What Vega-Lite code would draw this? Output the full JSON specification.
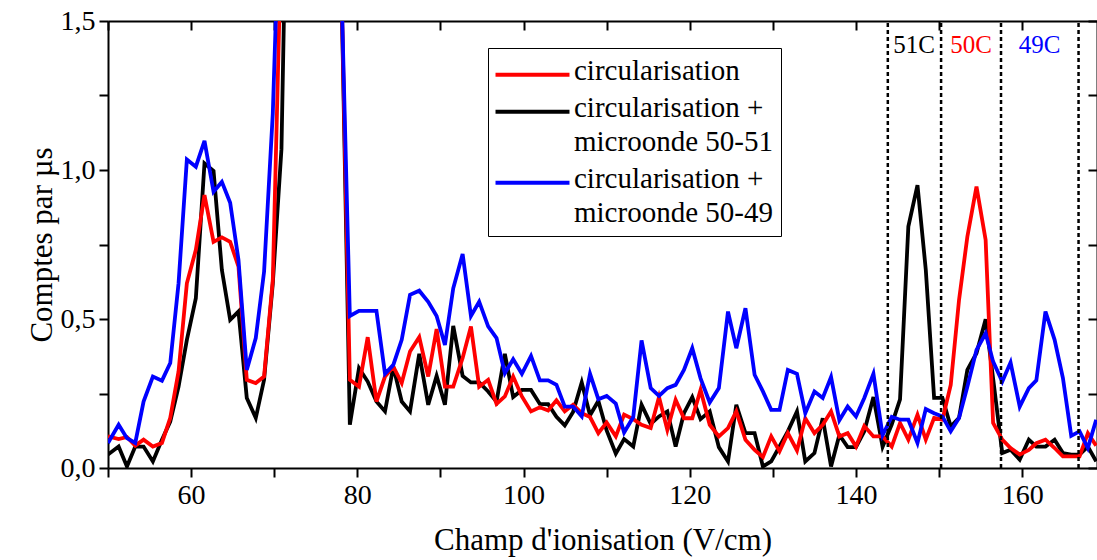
{
  "$schema": "https://vega.github.io/schema/vega-lite/v6.json",
  "width": 989,
  "height": 447,
  "autosize": {"type": "none"},
  "padding": {"left": 108, "top": 21, "right": 0, "bottom": 92},
  "background": "white",
  "config": {
    "view": {"stroke": null},
    "font": "'Liberation Serif', 'Times New Roman', 'DejaVu Serif', serif",
    "style": {"guide-label": {"lineHeight": 34}},
    "axis": {"domainColor": "black", "domainWidth": 2, "tickColor": "black", "tickWidth": 2, "labelColor": "black", "titleColor": "black", "labelFont": "'Liberation Serif', 'Times New Roman', 'DejaVu Serif', serif", "titleFont": "'Liberation Serif', 'Times New Roman', 'DejaVu Serif', serif", "grid": false, "titleFontWeight": "normal", "labelFlush": false, "labelOverlap": false}
  },
  "datasets": {
    "curves": [
      {"x": 50.0, "r": 0.106, "k": 0.045, "b": 0.084},
      {"x": 51.28, "r": 0.097, "k": 0.072, "b": 0.145},
      {"x": 52.28, "r": 0.104, "k": 0.005, "b": 0.100},
      {"x": 53.28, "r": 0.075, "k": 0.072, "b": 0.084},
      {"x": 54.28, "r": 0.095, "k": 0.072, "b": 0.223},
      {"x": 55.4, "r": 0.072, "k": 0.022, "b": 0.307},
      {"x": 56.49, "r": 0.084, "k": 0.095, "b": 0.293},
      {"x": 57.49, "r": 0.168, "k": 0.156, "b": 0.352},
      {"x": 58.49, "r": 0.324, "k": 0.273, "b": 0.620},
      {"x": 59.49, "r": 0.620, "k": 0.430, "b": 1.035},
      {"x": 60.57, "r": 0.732, "k": 0.570, "b": 1.011},
      {"x": 61.61, "r": 0.916, "k": 1.022, "b": 1.098},
      {"x": 62.7, "r": 0.759, "k": 0.997, "b": 0.927},
      {"x": 63.7, "r": 0.774, "k": 0.665, "b": 0.960},
      {"x": 64.7, "r": 0.759, "k": 0.497, "b": 0.890},
      {"x": 65.7, "r": 0.676, "k": 0.525, "b": 0.698},
      {"x": 66.7, "r": 0.296, "k": 0.235, "b": 0.329},
      {"x": 67.78, "r": 0.285, "k": 0.168, "b": 0.436},
      {"x": 68.78, "r": 0.307, "k": 0.296, "b": 0.659},
      {"x": 69.83, "r": 0.631, "k": 0.62, "b": 1.190},
      {"x": 70.87, "r": 1.8, "k": 1.07, "b": 2.1},
      {"x": 71.9, "r": 3.5, "k": 2.6, "b": 4.0},
      {"x": 72.95, "r": 5.0, "k": 5.0, "b": 5.5},
      {"x": 74.0, "r": 6.0, "k": 6.0, "b": 6.0},
      {"x": 75.0, "r": 6.0, "k": 6.0, "b": 6.0},
      {"x": 76.05, "r": 5.0, "k": 5.0, "b": 5.0},
      {"x": 77.05, "r": 3.5, "k": 3.5, "b": 3.5},
      {"x": 78.1, "r": 1.6, "k": 1.6, "b": 1.6},
      {"x": 79.1, "r": 0.296, "k": 0.145, "b": 0.510},
      {"x": 80.2, "r": 0.273, "k": 0.335, "b": 0.527},
      {"x": 81.25, "r": 0.439, "k": 0.290, "b": 0.527},
      {"x": 82.3, "r": 0.223, "k": 0.223, "b": 0.527},
      {"x": 83.33, "r": 0.307, "k": 0.190, "b": 0.316},
      {"x": 84.33, "r": 0.340, "k": 0.340, "b": 0.346},
      {"x": 85.34, "r": 0.285, "k": 0.223, "b": 0.430},
      {"x": 86.34, "r": 0.391, "k": 0.190, "b": 0.581},
      {"x": 87.45, "r": 0.439, "k": 0.383, "b": 0.595},
      {"x": 88.53, "r": 0.307, "k": 0.212, "b": 0.558},
      {"x": 89.54, "r": 0.466, "k": 0.309, "b": 0.510},
      {"x": 90.54, "r": 0.273, "k": 0.212, "b": 0.413},
      {"x": 91.54, "r": 0.273, "k": 0.477, "b": 0.603},
      {"x": 92.67, "r": 0.369, "k": 0.309, "b": 0.718},
      {"x": 93.67, "r": 0.475, "k": 0.287, "b": 0.510},
      {"x": 94.66, "r": 0.273, "k": 0.287, "b": 0.558},
      {"x": 95.74, "r": 0.296, "k": 0.257, "b": 0.475},
      {"x": 96.75, "r": 0.215, "k": 0.223, "b": 0.436},
      {"x": 97.75, "r": 0.240, "k": 0.383, "b": 0.318},
      {"x": 98.75, "r": 0.307, "k": 0.238, "b": 0.365},
      {"x": 99.8, "r": 0.240, "k": 0.262, "b": 0.316},
      {"x": 100.9, "r": 0.190, "k": 0.262, "b": 0.376},
      {"x": 101.96, "r": 0.204, "k": 0.215, "b": 0.294},
      {"x": 102.96, "r": 0.193, "k": 0.214, "b": 0.294},
      {"x": 103.96, "r": 0.227, "k": 0.172, "b": 0.279},
      {"x": 104.96, "r": 0.190, "k": 0.143, "b": 0.206},
      {"x": 105.96, "r": 0.212, "k": 0.188, "b": 0.206},
      {"x": 107.0, "r": 0.184, "k": 0.287, "b": 0.173},
      {"x": 108.0, "r": 0.171, "k": 0.177, "b": 0.316},
      {"x": 109.0, "r": 0.117, "k": 0.225, "b": 0.231},
      {"x": 110.0, "r": 0.153, "k": 0.126, "b": 0.242},
      {"x": 111.1, "r": 0.106, "k": 0.048, "b": 0.216},
      {"x": 112.1, "r": 0.179, "k": 0.097, "b": 0.119},
      {"x": 113.2, "r": 0.164, "k": 0.072, "b": 0.171},
      {"x": 114.2, "r": 0.145, "k": 0.212, "b": 0.428},
      {"x": 115.3, "r": 0.134, "k": 0.148, "b": 0.268},
      {"x": 116.3, "r": 0.238, "k": 0.173, "b": 0.242},
      {"x": 117.3, "r": 0.128, "k": 0.190, "b": 0.268},
      {"x": 118.3, "r": 0.229, "k": 0.072, "b": 0.279},
      {"x": 119.3, "r": 0.167, "k": 0.184, "b": 0.329},
      {"x": 120.3, "r": 0.167, "k": 0.238, "b": 0.402},
      {"x": 121.3, "r": 0.262, "k": 0.164, "b": 0.301},
      {"x": 122.4, "r": 0.145, "k": 0.190, "b": 0.220},
      {"x": 123.5, "r": 0.106, "k": 0.070, "b": 0.268},
      {"x": 124.6, "r": 0.134, "k": 0.022, "b": 0.525},
      {"x": 125.6, "r": 0.190, "k": 0.212, "b": 0.402},
      {"x": 126.7, "r": 0.095, "k": 0.117, "b": 0.536},
      {"x": 127.8, "r": 0.061, "k": 0.117, "b": 0.313},
      {"x": 128.8, "r": 0.037, "k": 0.005, "b": 0.257},
      {"x": 129.8, "r": 0.106, "k": 0.022, "b": 0.195},
      {"x": 130.8, "r": 0.056, "k": 0.072, "b": 0.195},
      {"x": 131.8, "r": 0.117, "k": 0.123, "b": 0.329},
      {"x": 132.9, "r": 0.059, "k": 0.190, "b": 0.316},
      {"x": 133.9, "r": 0.167, "k": 0.022, "b": 0.184},
      {"x": 135.0, "r": 0.117, "k": 0.050, "b": 0.257},
      {"x": 136.0, "r": 0.145, "k": 0.167, "b": 0.235},
      {"x": 137.0, "r": 0.190, "k": 0.005, "b": 0.305},
      {"x": 138.0, "r": 0.106, "k": 0.111, "b": 0.160},
      {"x": 139.0, "r": 0.117, "k": 0.070, "b": 0.206},
      {"x": 140.0, "r": 0.072, "k": 0.070, "b": 0.173},
      {"x": 141.0, "r": 0.141, "k": 0.123, "b": 0.235},
      {"x": 142.1, "r": 0.106, "k": 0.238, "b": 0.316},
      {"x": 143.2, "r": 0.106, "k": 0.071, "b": 0.110},
      {"x": 144.3, "r": 0.072, "k": 0.146, "b": 0.172},
      {"x": 145.3, "r": 0.151, "k": 0.230, "b": 0.162},
      {"x": 146.3, "r": 0.095, "k": 0.810, "b": 0.162},
      {"x": 147.4, "r": 0.179, "k": 0.949, "b": 0.084},
      {"x": 148.4, "r": 0.095, "k": 0.665, "b": 0.198},
      {"x": 149.4, "r": 0.168, "k": 0.235, "b": 0.184},
      {"x": 150.4, "r": 0.162, "k": 0.235, "b": 0.173},
      {"x": 151.4, "r": 0.279, "k": 0.139, "b": 0.123},
      {"x": 152.4, "r": 0.564, "k": 0.168, "b": 0.168},
      {"x": 153.4, "r": 0.776, "k": 0.329, "b": 0.273},
      {"x": 154.5, "r": 0.944, "k": 0.385, "b": 0.396},
      {"x": 155.6, "r": 0.765, "k": 0.499, "b": 0.452},
      {"x": 156.5, "r": 0.151, "k": 0.30, "b": 0.357},
      {"x": 157.6, "r": 0.095, "k": 0.050, "b": 0.290},
      {"x": 158.6, "r": 0.067, "k": 0.061, "b": 0.354},
      {"x": 159.7, "r": 0.045, "k": 0.028, "b": 0.206},
      {"x": 160.8, "r": 0.061, "k": 0.095, "b": 0.268},
      {"x": 161.7, "r": 0.083, "k": 0.072, "b": 0.294},
      {"x": 162.8, "r": 0.095, "k": 0.072, "b": 0.525},
      {"x": 163.9, "r": 0.067, "k": 0.095, "b": 0.430},
      {"x": 164.9, "r": 0.039, "k": 0.050, "b": 0.302},
      {"x": 165.9, "r": 0.039, "k": 0.045, "b": 0.108},
      {"x": 166.9, "r": 0.039, "k": 0.045, "b": 0.123},
      {"x": 167.9, "r": 0.117, "k": 0.072, "b": 0.067},
      {"x": 168.9, "r": 0.075, "k": 0.022, "b": 0.162}
    ],
    "marks": [{"x": 143.83}, {"x": 150.24}, {"x": 157.45}, {"x": 166.78}],
    "tags": [
      {"x": 147.0, "y": 1.42, "t": "51C", "s": "k"},
      {"x": 153.85, "y": 1.42, "t": "50C", "s": "r"},
      {"x": 162.1, "y": 1.42, "t": "49C", "s": "b"}
    ]
  },
  "layer": [
    {
      "data": {"name": "curves"},
      "transform": [{"fold": ["k", "r", "b"], "as": ["s", "y"]}],
      "mark": {"type": "line", "strokeWidth": 3.8, "clip": true},
      "encoding": {
        "x": {
          "field": "x", "type": "quantitative",
          "scale": {"domain": [50, 169], "nice": false, "zero": false},
          "axis": {"orient": "bottom", "values": [50, 60, 70, 80, 90, 100, 110, 120, 130, 140, 150, 160], "labelExpr": "datum.value % 20 === 0 ? datum.label : ''", "tickSize": 9, "labelFontSize": 28, "labelPadding": 4, "title": "Champ d'ionisation (V/cm)", "titleFontSize": 31, "titlePadding": 16}
        },
        "y": {
          "field": "y", "type": "quantitative",
          "scale": {"domain": [0, 1.5], "nice": false},
          "axis": {"orient": "left", "values": [0, 0.25, 0.5, 0.75, 1, 1.25, 1.5], "labelExpr": "(datum.value * 2) % 1 === 0 ? replace(format(datum.value, '.1f'), '.', ',') : ''", "tickSize": 9, "labelFontSize": 28, "labelPadding": 4, "title": "Comptes par µs", "titleFontSize": 31, "titlePadding": 2}
        },
        "color": {
          "field": "s", "type": "nominal",
          "scale": {"domain": ["r", "k", "b"], "range": ["#ff0000", "#000000", "#0000ff"]},
          "legend": {"orient": "none", "legendX": 380, "legendY": 27, "title": null, "symbolType": "M-4,0.45H4", "symbolSize": 342, "symbolStrokeWidth": 4, "symbolOffset": 22, "labelFontSize": 29, "labelFont": "'Liberation Serif', 'Times New Roman', 'DejaVu Serif', serif", "labelColor": "black", "labelLimit": 0, "labelOffset": 27, "rowPadding": 7, "padding": 8, "strokeColor": "black", "fillColor": "white", "labelExpr": "datum.label === 'r' ? 'circularisation' : datum.label === 'k' ? ['circularisation +', 'microonde 50-51'] : ['circularisation +', 'microonde 50-49']"}
        }
      }
    },
    {
      "data": {"name": "marks"},
      "mark": {"type": "rule", "strokeDash": [4, 3], "strokeWidth": 2.5, "color": "black"},
      "encoding": {
        "x": {"field": "x", "type": "quantitative", "axis": {"orient": "top", "values": [50, 60, 70, 80, 90, 100, 110, 120, 130, 140, 150, 160], "labels": false, "tickSize": -9, "title": null}},
        "y": {"datum": 0, "axis": {"orient": "right", "values": [0, 0.25, 0.5, 0.75, 1, 1.25, 1.5], "labels": false, "tickSize": -9, "title": null}},
        "y2": {"datum": 1.5}
      }
    },
    {
      "data": {"name": "tags"},
      "mark": {"type": "text", "fontSize": 25, "font": "'Liberation Serif', 'Times New Roman', 'DejaVu Serif', serif", "baseline": "middle", "align": "center"},
      "encoding": {
        "x": {"field": "x", "type": "quantitative", "axis": null},
        "y": {"field": "y", "type": "quantitative", "axis": null},
        "text": {"field": "t"},
        "color": {"condition": [{"test": "datum.s === 'r'", "value": "#ff0000"}, {"test": "datum.s === 'b'", "value": "#0000ff"}], "value": "#000000"}
      }
    }
  ],
  "resolve": {"axis": {"x": "independent", "y": "independent"}}
}
